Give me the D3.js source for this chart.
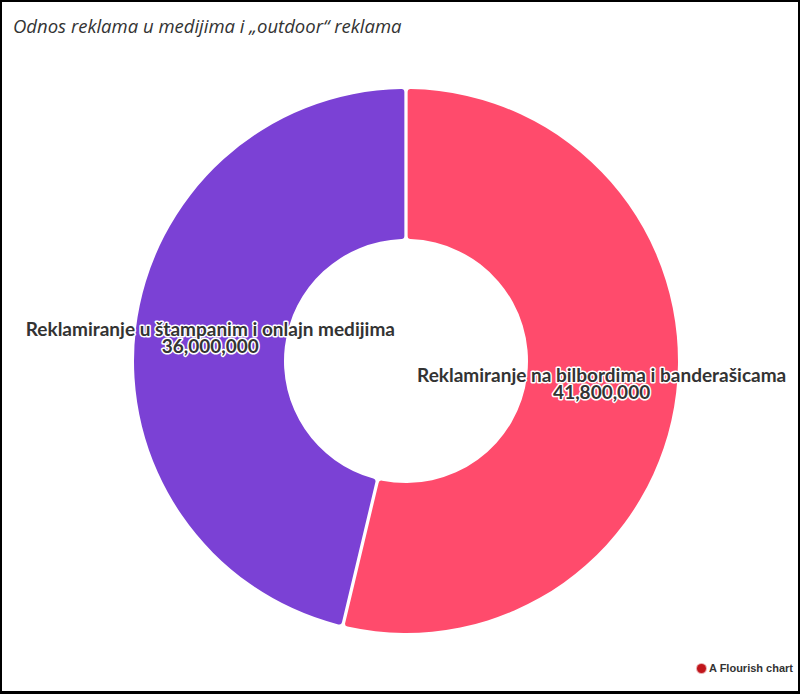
<!DOCTYPE html>
<html>
<head>
<meta charset="utf-8">
<script src="https://cdn.jsdelivr.net/npm/d3@7"></script>
<style>
  html, body { margin: 0; padding: 0; background: #fff; }
  #chart { width: 800px; height: 694px; box-sizing: border-box; border: 2px solid #000; border-bottom-width: 3px; position: relative; overflow: hidden; }
  .title { position: absolute; left: 11px; top: 11px; font-family: "Open Sans", sans-serif; font-style: italic; font-size: 18.5px; color: #333; }
  .credit { position: absolute; right: 5px; bottom: 17px; font-family: "Liberation Sans", Arial, sans-serif; font-weight: bold; font-size: 11px; color: #333; }
  .credit span { display: inline-block; width: 9px; height: 9px; border-radius: 50%; background: #c0151b; margin-right: 3px; vertical-align: -1px; box-shadow: 0 0 0 1px rgba(192,21,27,0.35); }
</style>
</head>
<body>
<div id="chart">
  <div class="title">Odnos reklama u medijima i „outdoor“ reklama</div>
  <div class="credit"><span></span>A Flourish chart</div>
</div>
<script>
// data
var categories = ["Reklamiranje na bilbordima i banderašicama", "Reklamiranje u štampanim i onlajn medijima"];
var values = [41800000, 36000000];
var colors = ["#ff4b6c", "#7b41d5"];

function DonutChart(id){
    var self = this;
    self.sectionId = id;
    self.initVis();
}

DonutChart.prototype.initVis = function(){
    var self = this;

    self.svgWidth = 796;
    self.svgHeight = 689;
    self.cx = 404;
    self.cy = 359;
    self.outer = 272;
    self.inner = 122;

    self.svg = d3.select("#" + self.sectionId)
        .append("svg")
        .attr("width", self.svgWidth)
        .attr("height", self.svgHeight)
        .style("position", "absolute")
        .style("left", 0)
        .style("top", 0);

    // labels get cut at the plot edges like in flourish
    self.svg.append("clipPath")
        .attr("id", "plotClip")
        .append("rect")
        .attr("x", 23)
        .attr("y", 0)
        .attr("width", 761)
        .attr("height", self.svgHeight);

    let data = categories.map(function(c, i){ return {name: c, value: values[i], color: colors[i]}; });

    let pie = d3.pie()
        .sort(null)
        .value(function(d){ return d.value; });

    let arc = d3.arc()
        .innerRadius(self.inner)
        .outerRadius(self.outer)
        .cornerRadius(3)
        .padAngle(0.011);

    let labelArc = d3.arc()
        .innerRadius(self.inner)
        .outerRadius(self.outer);

    let g = self.svg.append("g")
        .attr("transform", `translate(${self.cx}, ${self.cy})`);

    let arcs = pie(data);

    g.selectAll(".slice")
        .data(arcs)
        .join("path")
        .attr("class", "slice")
        .attr("fill", function(d){ return d.data.color; })
        .attr("d", arc);

    let labels = self.svg.append("g")
        .attr("clip-path", "url(#plotClip)")
        .append("g")
        .attr("transform", `translate(${self.cx}, ${self.cy})`);

    let fmt = d3.format(",");

    let lab = labels.selectAll(".label")
        .data(arcs)
        .join("g")
        .attr("class", "label")
        .attr("transform", function(d){
            let c = labelArc.centroid(d);
            return `translate(${c[0]}, ${c[1]})`;
        });

    function styleText(sel){
        sel.attr("text-anchor", "middle")
            .attr("font-family", "Lato, sans-serif")
            .attr("font-weight", "bold")
            .attr("font-size", 19)
            .attr("fill", "#333")
            .attr("stroke", "#fff")
            .attr("stroke-width", 3)
            .attr("stroke-linejoin", "round")
            .attr("paint-order", "stroke");
    }

    lab.append("text")
        .call(styleText)
        .attr("y", -2)
        .text(function(d){ return d.data.name; });

    lab.append("text")
        .call(styleText)
        .attr("y", 15)
        .text(function(d){ return fmt(d.data.value); });
}

new DonutChart("chart");
</script>
</body>
</html>
